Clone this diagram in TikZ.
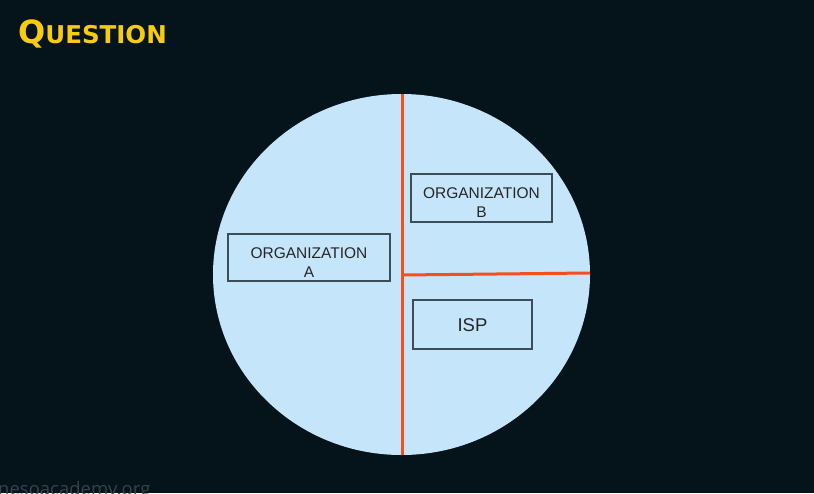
\documentclass[tikz,border=0pt]{standalone}
\usepackage{fontspec}
\setmainfont{Liberation Sans}
\newfontfamily\titlefont{DejaVu Sans}
\newfontfamily\footfont{Open Sans}
\begin{document}
\begin{tikzpicture}[x=1pt,y=-1pt,
  orgbox/.style={draw=boxedge, line width=1.2pt, fill=disc, inner sep=0pt},
  boxtext/.style={inner sep=0pt, align=center, text=black!85,
    font=\fontsize{15.5}{19}\selectfont},
  divider/.style={draw=cutred, line width=3pt}]
\definecolor{bg}{HTML}{04141A}
\definecolor{disc}{HTML}{C5E5FB}
\definecolor{cutred}{HTML}{F4501E}
\definecolor{boxedge}{HTML}{3E4C57}
\definecolor{gold}{HTML}{F7CB10}
\definecolor{foot}{HTML}{34434A}
\useasboundingbox (0,0) rectangle (814,493);
\clip (0,0) rectangle (814,493);
\fill[bg] (0,0) rectangle (814,493);
% title in hand-set small capitals
\node[anchor=base west, inner sep=0pt, text=gold, font=\titlefont\bfseries] (title) at (18,43)
  {\fontsize{32}{32}\selectfont Q\fontsize{24.5}{24.5}\selectfont UESTION};
% disc
\fill[disc] (401.5,274.5) ellipse [x radius=188.5, y radius=180.5];
\coordinate (top) at (402,94);
\coordinate (bottom) at (402,455);
\coordinate (mid) at (402,275);
\coordinate (rim) at (590,273);
\draw[divider] (top) -- (bottom);
\draw[divider] (mid) -- (rim);
% boxes
\node[orgbox, minimum width=162pt, minimum height=47pt] (orgA) at (309,257.5) {};
\node[boxtext] (orgAtext) at ([yshift=-5pt]orgA.center) {ORGANIZATION\\A};
\node[orgbox, minimum width=141pt, minimum height=48pt] (orgB) at (481.5,198) {};
\node[boxtext] (orgBtext) at ([yshift=-5pt]orgB.center) {ORGANIZATION\\B};
\node[orgbox, minimum width=119pt, minimum height=49pt] (isp) at (472.5,324.5) {};
\node[boxtext, font=\fontsize{18.5}{20}\selectfont] (isptext) at ([yshift=-1pt]isp.center) {ISP};
% footer
\node[anchor=base west, inner sep=0pt, text=foot, font=\footfont\fontsize{18.5}{18.5}\selectfont] (site) at (-2,495) {nesoacademy.org};
\end{tikzpicture}
\end{document}
